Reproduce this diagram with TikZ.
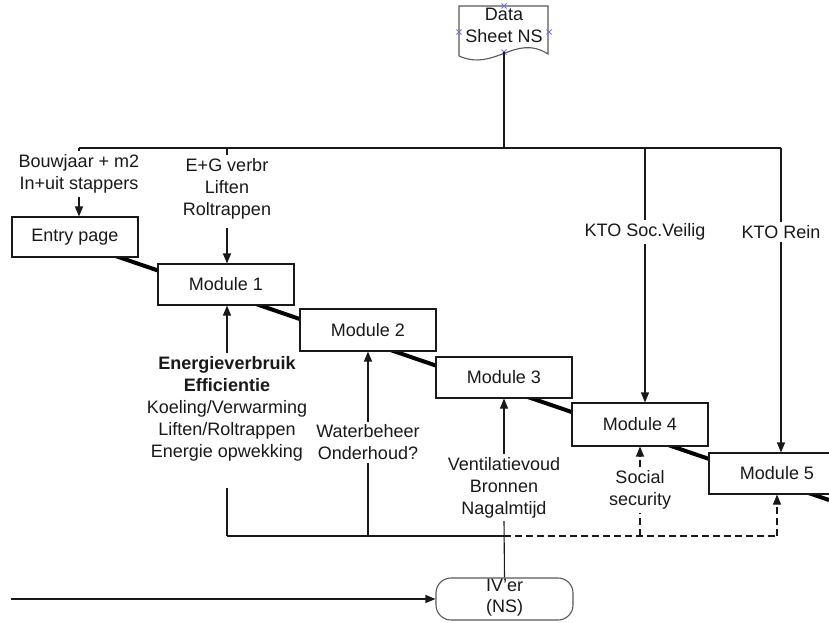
\documentclass[tikz,border=0pt]{standalone}
\usepackage{fontspec}
\setmainfont{Liberation Sans}
\usetikzlibrary{arrows.meta}
\definecolor{cpblue}{RGB}{110,110,240}
\begin{document}
\begin{tikzpicture}[x=1pt,y=-1pt,
  txt/.style={font=\fontsize{18}{22}\selectfont, text=black!90, align=center, inner sep=3pt},
  box/.style={draw=black!90, line width=1.1pt, fill=white, minimum width=136pt, minimum height=41pt, inner sep=0pt, font=\fontsize{18}{22}\selectfont, text=black!90},
  con/.style={draw=black!90, line width=1.1pt},
  arr/.style={con, -{Triangle[length=10pt,width=8pt]}},
  dsh/.style={dash pattern=on 7pt off 4pt},
  cpx/.style={draw=cpblue, line width=0.8pt},
]
\fill[white] (0,0) rectangle (829,622);
\useasboundingbox (0,0) rectangle (829,622);

% thick process line behind the boxes
\coordinate (tl1) at (60,237);
\coordinate (tl2) at (829,500);
\draw[line width=4pt, black] (tl1) -- (tl2);

% document shape
\draw[draw=black!65, line width=1.1pt, fill=white] (459,6) -- (548,6) -- (548,54)
  .. controls (515,33) and (495,72) .. (459,56) -- cycle;
\node[txt, inner sep=0pt] (doc) at (504,25) {Data\\Sheet NS};
\coordinate (docb) at (504,52);
\foreach \p in {(504,6),(459,32),(549,32),(504,52)}{
  \draw[cpx] \p ++(-2.5,-2.5) -- ++(5,5);
  \draw[cpx] \p ++(-2.5,2.5) -- ++(5,-5);
}

% boxes
\node[box, minimum width=126pt, minimum height=40pt] (entry) at (75,237) {Entry page};
\node[box] (m1) at (226,284.5) {Module 1};
\node[box, minimum height=42pt] (m2) at (368,330) {Module 2};
\node[box] (m3) at (504,377.5) {Module 3};
\node[box, minimum height=43pt] (m4) at (640,424.5) {Module 4};
\node[box] (m5) at (777,473.5) {Module 5};
\node[box, draw=black!65, rounded corners=15pt, minimum width=137pt, minimum height=42pt] (iver) at (504.5,599) {};
\node[txt, inner sep=0pt, font=\fontsize{18}{21}\selectfont] (ivertxt) at (504.5,597.5) {IV'er\\(NS)};

% top inputs
\coordinate (bA) at (79,148);
\coordinate (bB) at (227,148);
\coordinate (bC) at (504,148);
\coordinate (bD) at (645,148);
\coordinate (bE) at (781,148);
\draw[con] (bA) -- (bE);
\draw[con] (docb) -- (bC);

\node[txt] (t1) at (79,174) {Bouwjaar + m2\\In+uit stappers};
\node[txt] (t2) at (227,188.5) {E+G verbr\\Liften\\Roltrappen};
\node[txt] (k1) at (645,232) {KTO Soc.Veilig};
\node[txt] (k2) at (781,232) {KTO Rein};

\draw[con] (bA) -- (t1.north);
\draw[arr] (t1.south) -- (t1.south |- entry.north);
\draw[con] (bB) -- (t2.north);
\draw[arr] ([yshift=-6pt]t2.south) -- (t2.south |- m1.north);
\draw[con] (bD) -- (k1.north);
\draw[arr] (k1.south) -- (k1.south |- m4.north);
\draw[con] (bE) -- (k2.north);
\draw[arr] (k2.south) -- (k2.south |- m5.north);

% bottom inputs
\node[txt] (energ) at (227,409) {\bfseries Energieverbruik\\\bfseries Efficientie\\Koeling/Verwarming\\Liften/Roltrappen\\Energie opwekking};
\node[txt] (water) at (368,442.5) {Waterbeheer\\Onderhoud?};
\node[txt] (vent) at (504,487.5) {Ventilatievoud\\Bronnen\\Nagalmtijd};
\node[txt] (soc) at (640,490) {Social\\security};

\coordinate (cA) at (227,536);
\coordinate (cB) at (368,536);
\coordinate (cC) at (504,536);
\coordinate (cD) at (640,536);
\coordinate (cE) at (777,536);
\draw[con] (cA) -- (cC);
\draw[con, dsh] (cC) -- (cE);

\draw[con] (cA) -- ([yshift=-23pt]energ.south);
\draw[arr] (energ.north) -- (energ.north |- m1.south);
\draw[con] (cB) -- (water.south);
\draw[arr] (water.north) -- (water.north |- m2.south);
\draw[arr] (vent.north) -- (vent.north |- m3.south);
\draw[con] (vent.south) -- (iver.north);
\draw[arr, dsh] (soc.north) -- (soc.north |- m4.south);
\draw[con, dsh] (cD) -- (soc.south);
\draw[arr, dsh] (cE) -- (cE |- m5.south);

\coordinate (st) at (11,599);
\draw[arr] (st) -- (iver.west);
\end{tikzpicture}
\end{document}
